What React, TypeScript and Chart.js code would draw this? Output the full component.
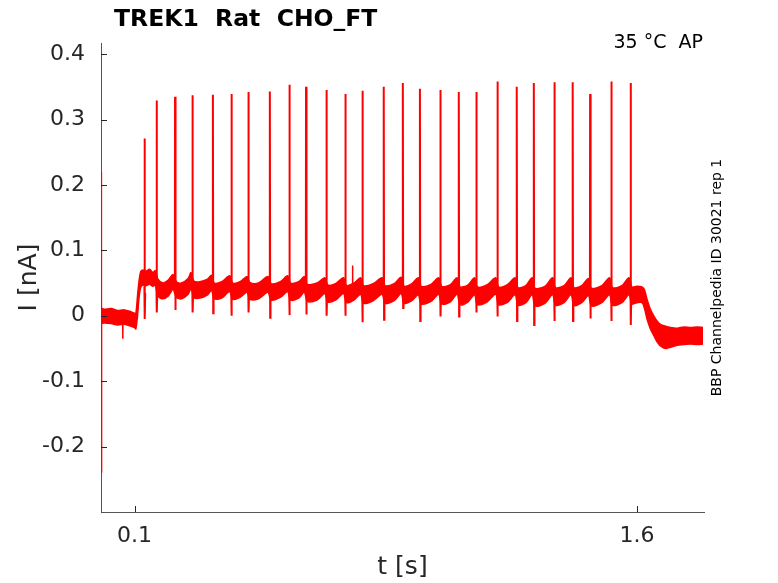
import { useEffect, useRef } from 'react';
import { Chart, registerables } from 'chart.js';

Chart.register(...registerables);

// spike train (time in s, current in nA)
const SPIKE_T = [0.130, 0.166, 0.221, 0.273, 0.334, 0.389, 0.440, 0.504, 0.562, 0.612, 0.673, 0.729, 0.780, 0.844, 0.901, 0.952, 1.013, 1.068, 1.120, 1.183, 1.241, 1.292, 1.353, 1.408, 1.460, 1.523, 1.581];
const SPIKE_PEAK = [0.271, 0.329, 0.335, 0.337, 0.338, 0.339, 0.342, 0.343, 0.353, 0.350, 0.345, 0.339, 0.344, 0.350, 0.356, 0.347, 0.345, 0.342, 0.342, 0.358, 0.350, 0.356, 0.357, 0.357, 0.339, 0.358, 0.356];
const SPIKE_DIP = [-0.005, 0.005, 0.009, 0.005, 0.004, 0.000, 0.005, -0.003, 0.001, 0.002, 0.000, 0.000, -0.010, -0.006, 0.012, -0.008, -0.001, -0.001, 0.005, -0.001, -0.008, -0.014, -0.008, -0.008, -0.004, -0.008, -0.014];
const SPIKE_FOOT = 0.045;

// noisy baseline envelope
const BAND_T = [0.000, 0.010, 0.030, 0.050, 0.070, 0.090, 0.100, 0.104, 0.109, 0.114, 0.119, 0.126, 0.134, 0.145, 0.155, 0.162, 0.170, 0.185, 0.200, 0.215, 0.225, 0.240, 0.260, 0.269, 0.277, 0.295, 0.318, 0.330, 0.338, 0.360, 0.384, 0.393, 0.415, 0.436, 0.444, 0.470, 0.498, 0.508, 0.535, 0.557, 0.566, 0.590, 0.607, 0.616, 0.645, 0.668, 0.677, 0.700, 0.724, 0.733, 0.755, 0.775, 0.784, 0.812, 0.839, 0.848, 0.875, 0.896, 0.905, 0.928, 0.947, 0.956, 0.985, 1.008, 1.017, 1.042, 1.063, 1.072, 1.095, 1.115, 1.124, 1.152, 1.178, 1.187, 1.212, 1.236, 1.245, 1.268, 1.287, 1.296, 1.325, 1.348, 1.357, 1.382, 1.403, 1.412, 1.435, 1.455, 1.464, 1.495, 1.518, 1.527, 1.555, 1.576, 1.585, 1.600, 1.615, 1.622, 1.630, 1.640, 1.650, 1.660, 1.670, 1.685, 1.700, 1.720, 1.740, 1.760, 1.780, 1.797];
const BAND_HI = [0.012, 0.010, 0.011, 0.008, 0.009, 0.006, 0.004, 0.003, 0.030, 0.055, 0.068, 0.070, 0.068, 0.071, 0.066, 0.069, 0.056, 0.050, 0.054, 0.063, 0.052, 0.050, 0.057, 0.066, 0.053, 0.052, 0.056, 0.062, 0.050, 0.052, 0.061, 0.050, 0.052, 0.060, 0.051, 0.050, 0.060, 0.049, 0.052, 0.061, 0.050, 0.052, 0.060, 0.048, 0.050, 0.058, 0.047, 0.049, 0.058, 0.046, 0.050, 0.058, 0.046, 0.049, 0.058, 0.046, 0.049, 0.059, 0.045, 0.049, 0.058, 0.045, 0.048, 0.058, 0.045, 0.047, 0.058, 0.044, 0.047, 0.058, 0.044, 0.047, 0.058, 0.044, 0.047, 0.058, 0.043, 0.046, 0.058, 0.042, 0.045, 0.058, 0.043, 0.046, 0.058, 0.043, 0.046, 0.057, 0.042, 0.046, 0.058, 0.043, 0.046, 0.058, 0.044, 0.045, 0.044, 0.040, 0.025, 0.010, 0.000, -0.008, -0.013, -0.016, -0.018, -0.019, -0.017, -0.018, -0.017, -0.018];
const BAND_LO = [-0.012, -0.011, -0.012, -0.014, -0.013, -0.016, -0.018, -0.020, 0.000, 0.030, 0.044, 0.047, 0.046, 0.048, 0.045, 0.047, 0.030, 0.026, 0.030, 0.040, 0.028, 0.026, 0.033, 0.042, 0.028, 0.027, 0.032, 0.039, 0.026, 0.027, 0.037, 0.025, 0.028, 0.036, 0.025, 0.026, 0.036, 0.024, 0.028, 0.037, 0.024, 0.027, 0.036, 0.022, 0.024, 0.034, 0.021, 0.024, 0.034, 0.020, 0.024, 0.033, 0.019, 0.023, 0.033, 0.019, 0.023, 0.034, 0.019, 0.023, 0.032, 0.018, 0.022, 0.033, 0.018, 0.021, 0.033, 0.017, 0.021, 0.032, 0.017, 0.021, 0.033, 0.017, 0.020, 0.032, 0.016, 0.020, 0.032, 0.015, 0.019, 0.032, 0.016, 0.020, 0.032, 0.016, 0.020, 0.031, 0.015, 0.020, 0.032, 0.016, 0.020, 0.032, 0.018, 0.020, 0.020, 0.012, -0.005, -0.020, -0.030, -0.040, -0.046, -0.050, -0.048, -0.045, -0.044, -0.043, -0.044, -0.043];

// onset transient and stray blips
const BLIP_T = [0.001, 0.0015, 0.065, 0.751];
const BLIP_I = [0.22, -0.24, -0.035, 0.077];
const BLIP_BASE = [0.0, 0.0, -0.005, 0.04];

const X_TICKS = [0.1, 1.6];
const Y_TICKS = [-0.2, -0.1, 0, 0.1, 0.2, 0.3, 0.4];

const RED = '#ff0000';
const INK = '#262626';
const FONT = "'DejaVu Sans', sans-serif";

const decorations = {
  id: 'decorations',
  afterDraw(chart: Chart) {
    const { ctx, chartArea } = chart;
    const xs = chart.scales.x;
    const ys = chart.scales.y;
    ctx.save();
    ctx.strokeStyle = INK;
    ctx.lineWidth = 1;
    ctx.beginPath();
    for (const v of Y_TICKS) {
      const y = Math.round(ys.getPixelForValue(v)) + 0.5;
      ctx.moveTo(chartArea.left, y);
      ctx.lineTo(chartArea.left + 6, y);
    }
    for (const v of X_TICKS) {
      const x = Math.round(xs.getPixelForValue(v)) + 0.5;
      ctx.moveTo(x, chartArea.bottom);
      ctx.lineTo(x, chartArea.bottom - 6);
    }
    ctx.stroke();

    ctx.fillStyle = '#000';
    ctx.textBaseline = 'alphabetic';
    ctx.textAlign = 'left';
    ctx.font = `bold 23.5px ${FONT}`;
    ctx.fillText('TREK1  Rat  CHO_FT', 114, 26);

    ctx.font = `19px ${FONT}`;
    ctx.textAlign = 'right';
    ctx.fillText('35 °C  AP', 703, 48);

    ctx.font = `14px ${FONT}`;
    ctx.textAlign = 'center';
    ctx.textBaseline = 'middle';
    ctx.translate(717, (chartArea.top + chartArea.bottom) / 2);
    ctx.rotate(-Math.PI / 2);
    ctx.fillText('BBP Channelpedia ID 30021 rep 1', 0, 0);
    ctx.restore();
  },
};

function App() {
  const canvasRef = useRef<HTMLCanvasElement>(null);
  const chartRef = useRef<Chart | null>(null);

  useEffect(() => {
    if (!canvasRef.current) return;
    chartRef.current?.destroy();

    const lower = BAND_T.map((t, i) => ({ x: t, y: BAND_LO[i] }));
    const upper = BAND_T.map((t, i) => ({ x: t, y: BAND_HI[i] }));
    const spikes: { x: number; y: number | null }[] = [];
    SPIKE_T.forEach((t, i) => {
      spikes.push({ x: t - 0.0005, y: SPIKE_FOOT });
      spikes.push({ x: t, y: SPIKE_PEAK[i] });
      spikes.push({ x: t + 0.001, y: SPIKE_DIP[i] });
      spikes.push({ x: t + 0.002, y: SPIKE_FOOT - 0.01 });
      spikes.push({ x: t + 0.003, y: null });
    });
    const blips: { x: number; y: number | null }[] = [];
    BLIP_T.forEach((t, i) => {
      blips.push({ x: t - 0.0004, y: BLIP_BASE[i] });
      blips.push({ x: t, y: BLIP_I[i] });
      blips.push({ x: t + 0.0004, y: BLIP_BASE[i] });
      blips.push({ x: t + 0.0006, y: null });
    });

    chartRef.current = new Chart(canvasRef.current, {
      type: 'line',
      data: {
        datasets: [
          { data: lower, borderColor: RED, borderWidth: 1.5, pointRadius: 0, fill: false, tension: 0.3 },
          { data: upper, borderColor: RED, borderWidth: 1.5, pointRadius: 0, fill: '-1', backgroundColor: RED, tension: 0.3 },
          { data: spikes, borderColor: RED, borderWidth: 2, pointRadius: 0, spanGaps: false, fill: false },
          { data: blips, borderColor: RED, borderWidth: 1.5, pointRadius: 0, spanGaps: false, fill: false },
        ],
      },
      options: {
        animation: false,
        responsive: true,
        maintainAspectRatio: false,
        events: [],
        layout: { padding: { left: 0, right: 74, top: 43, bottom: 0 } },
        plugins: { legend: { display: false }, tooltip: { enabled: false }, title: { display: false } },
        scales: {
          x: {
            type: 'linear',
            min: 0,
            max: 1.8,
            grid: { display: false },
            border: { display: true, color: '#555555', width: 1 },
            afterBuildTicks: (scale) => { scale.ticks = X_TICKS.map((v) => ({ value: v })); },
            afterFit: (scale) => { scale.height = 71; },
            ticks: {
              padding: 3,
              color: INK,
              font: { family: FONT, size: 22 },
              maxRotation: 0,
              callback: (v) => String(v),
            },
            title: {
              display: true,
              text: 't [s]',
              color: INK,
              font: { family: FONT, size: 25, lineHeight: 1.2 },
              padding: { top: 0, bottom: 1 },
            },
          },
          y: {
            type: 'linear',
            min: -0.3,
            max: 0.417,
            grid: { display: false },
            border: { display: true, color: '#555555', width: 1 },
            afterBuildTicks: (scale) => { scale.ticks = Y_TICKS.map((v) => ({ value: v })); },
            afterFit: (scale) => { scale.width = 101; },
            ticks: {
              padding: 8,
              color: INK,
              font: { family: FONT, size: 22 },
              callback: (v) => String(v),
            },
            title: {
              display: true,
              text: 'I [nA]',
              color: INK,
              font: { family: FONT, size: 25, lineHeight: 1.2 },
              padding: { top: 14, bottom: 0 },
            },
          },
        },
      },
      plugins: [decorations],
    });
    return () => chartRef.current?.destroy();
  }, []);

  return (
    <div style={{ position: 'fixed', left: 0, top: 0, width: '778px', height: '583px', background: '#fff' }}>
      <canvas ref={canvasRef} role="img" aria-label="TREK1 Rat CHO_FT current trace, I [nA] against t [s]" />
    </div>
  );
}

export default App;
